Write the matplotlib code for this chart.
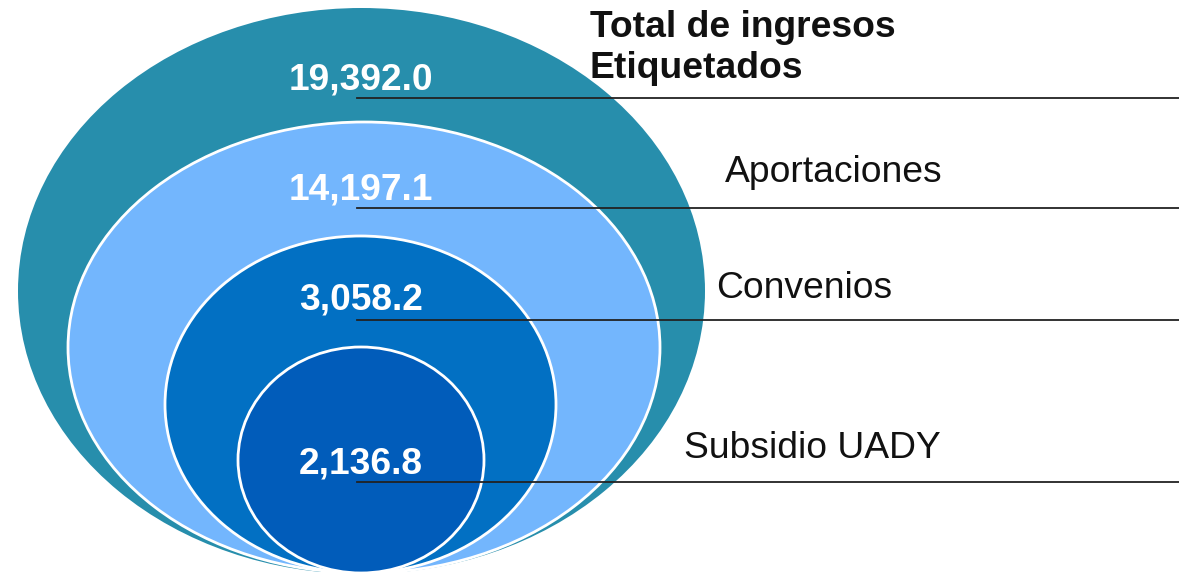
import matplotlib.pyplot as plt
from matplotlib.patches import Ellipse

# data
categories = ["Total de ingresos\nEtiquetados", "Aportaciones", "Convenios", "Subsidio UADY"]
values = [19392.0, 14197.1, 3058.2, 2136.8]
colors = ["#278EAC", "#73B6FD", "#0270C3", "#015CBA"]

# layout (pixel coords, y downwards)
ell_center = [(361.5, 291), (364, 347.5), (360.5, 404.5), (361, 460)]
ell_size = [(687, 566), (592, 451), (391, 337), (246, 226)]
value_y = [80, 190, 300, 464]
line_y = [98, 208, 320, 482]
label_xy = [(590, 48), (725, 173), (716, 289), (684, 449)]

plt.rcParams['font.family'] = ['Liberation Sans', 'DejaVu Sans']

fig = plt.figure(figsize=(11.79, 5.72), dpi=100)
ax = fig.add_axes([0, 0, 1, 1])
ax.set_xlim(0, 1179)
ax.set_ylim(572, 0)
ax.axis("off")

for i, (c, s) in enumerate(zip(ell_center, ell_size)):
    ec = "none" if i == 0 else "white"
    ax.add_patch(Ellipse(c, s[0], s[1], facecolor=colors[i], edgecolor=ec, lw=2, zorder=1 + i))

for i, v in enumerate(values):
    ax.plot([357, 1179], [line_y[i], line_y[i]], color="#222222", lw=1.3, zorder=10)
    ax.text(361, value_y[i], f"{v:,.1f}", color="white", fontsize=26.7, fontweight="bold",
            ha="center", va="center", zorder=11)
    lx, ly = label_xy[i]
    ax.text(lx, ly, categories[i], color="#111111", fontsize=26.8,
            fontweight="bold" if i == 0 else "normal", ha="left", va="center",
            linespacing=1.25, zorder=11)

fig.savefig("out.png", dpi=100)
